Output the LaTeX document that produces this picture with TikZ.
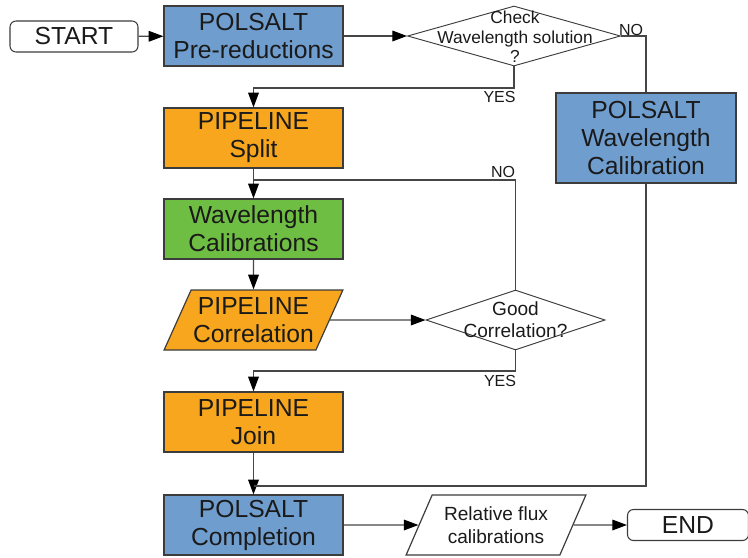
\documentclass[tikz,border=0pt]{standalone}
\usepackage{fontspec}
\setmainfont{Liberation Sans}
\usetikzlibrary{shapes.geometric,arrows.meta}

\definecolor{polblue}{RGB}{111,157,206}
\definecolor{pipeorange}{RGB}{247,166,29}
\definecolor{calgreen}{RGB}{111,190,68}
\definecolor{edgegray}{RGB}{60,60,60}
\definecolor{linegray}{RGB}{70,70,70}
\definecolor{inkblack}{RGB}{26,26,26}

\begin{document}
\begin{tikzpicture}[x=0.75pt, y=-0.75pt,
  every node/.style={text=inkblack},
  box/.style={draw=edgegray, line width=0.9pt, minimum width=134.25pt, minimum height=45pt,
    inner sep=0pt, align=center, font=\fontsize{18.5}{21}\selectfont},
  terminal/.style={draw=edgegray, line width=0.8pt, rounded corners=4.5pt, minimum height=23.25pt,
    inner sep=0pt, font=\fontsize{18.5}{21}\selectfont},
  decision/.style={draw=edgegray, line width=0.7pt, diamond, inner sep=0pt, minimum height=45pt},
  dataio/.style={draw=edgegray, line width=0.9pt, trapezium, trapezium left angle=60,
    trapezium right angle=120, trapezium stretches=true, minimum width=134.25pt,
    minimum height=45pt, inner sep=0pt, align=center},
  qtext/.style={align=center, inner sep=0pt},
  answer/.style={font=\fontsize{12}{14}\selectfont, inner sep=0pt},
  flow/.style={draw=linegray, line width=0.9pt},
  arr/.style={flow, -{Triangle[length=11pt, width=8pt, color=black]}}
]
\useasboundingbox (0,0) rectangle (748,557);

% ---------- top row: start, pre-reductions, first check ----------
\node[terminal, minimum width=96pt] (start) at (74,36.5) {START};
\node[box, fill=polblue] (prered) at (253.5,36) {POLSALT\\Pre-reductions};
\node[decision, minimum width=159.75pt] (checkwl) at (514,36) {};
\node[qtext, font=\fontsize{13}{14.6}\selectfont] (checkwl-txt) at (515,37)
  {Check\\Wavelength solution\\?};
\node[box, fill=polblue, minimum width=135pt, minimum height=67.5pt] (polwl) at (646,138)
  {POLSALT\\Wavelength\\Calibration};

% ---------- pipeline column ----------
\node[box, fill=pipeorange] (split) at (253.5,138) {PIPELINE\\Split};
\node[box, fill=calgreen] (wlcal) at (253.5,229) {Wavelength\\Calibrations};
\node[dataio, fill=pipeorange, font=\fontsize{18.5}{21}\selectfont] (correl) at (253.5,320)
  {PIPELINE\\Correlation};
\node[decision, minimum width=134.25pt] (goodcor) at (515.5,320) {};
\node[qtext, font=\fontsize{14.3}{16.5}\selectfont] (goodcor-txt) at (515.5,320)
  {Good\\Correlation?};
\node[box, fill=pipeorange] (join) at (253.5,422) {PIPELINE\\Join};

% ---------- bottom row ----------
\node[box, fill=polblue] (complete) at (253.5,525) {POLSALT\\Completion};
\node[dataio, minimum width=135pt, font=\fontsize{14.3}{17}\selectfont] (relflux) at (496,525)
  {Relative flux\\calibrations};
\node[terminal, minimum width=90.75pt] (end) at (688,525) {END};

% ---------- connectors ----------
\coordinate (yesturn1) at (253.5,88);
\coordinate (noturn2) at (253.5,180);
\coordinate (yesturn2) at (253.5,371);
\coordinate (wlturn) at (253.5,486);

\draw[arr] (start) -- (prered);
\draw[arr] (prered) -- (checkwl);
\draw[flow] (checkwl.east) -| (polwl.north);
\node[answer] (no1) at (631,29.5) {NO};
\draw[arr] (checkwl.south) |- (yesturn1) -- (split.north);
\node[answer] (yes1) at (499.5,97) {YES};

\draw[arr] (split) -- (wlcal);
\draw[flow] (goodcor.north) |- (noturn2);
\node[answer] (no2) at (503,172) {NO};
\draw[arr] (wlcal) -- (correl);
\draw[arr] (correl.east) -- (goodcor.west);
\draw[arr] (goodcor.south) |- (yesturn2) -- (join.north);
\node[answer] (yes2) at (500,381) {YES};

\draw[arr] (join) -- (complete);
\draw[flow] (polwl.south) |- (wlturn);
\draw[arr] (complete) -- (relflux);
\draw[arr] (relflux) -- (end);

\end{tikzpicture}
\end{document}
